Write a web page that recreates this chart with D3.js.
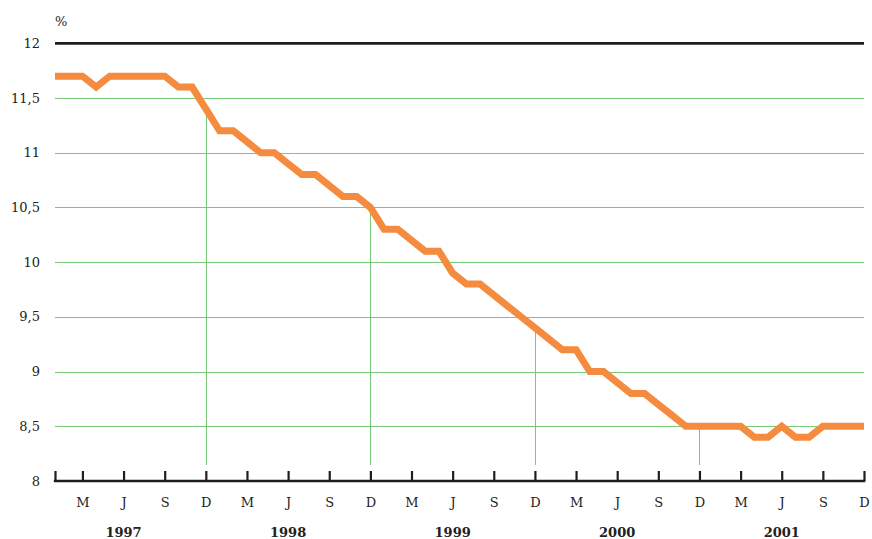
<!DOCTYPE html>
<html>
<head>
<meta charset="utf-8">
<script src="https://cdn.jsdelivr.net/npm/d3@7"></script>
<style>
  html, body { margin: 0; padding: 0; background: #fff; }
  svg { display: block; }
  text { font-family: "DejaVu Serif", serif; fill: #222; }
</style>
</head>
<body>
<svg id="chart" width="872" height="539"></svg>
<script>
// Monthly rate, January 1997 – December 2001 (%)
const years = ["1997", "1998", "1999", "2000", "2001"];
const rate1997 = [11.7, 11.7, 11.7, 11.6, 11.7, 11.7, 11.7, 11.7, 11.7, 11.6, 11.6, 11.4];
const rate1998 = [11.2, 11.2, 11.1, 11.0, 11.0, 10.9, 10.8, 10.8, 10.7, 10.6, 10.6, 10.5];
const rate1999 = [10.3, 10.3, 10.2, 10.1, 10.1, 9.9, 9.8, 9.8, 9.7, 9.6, 9.5, 9.4];
const rate2000 = [9.3, 9.2, 9.2, 9.0, 9.0, 8.9, 8.8, 8.8, 8.7, 8.6, 8.5, 8.5];
const rate2001 = [8.5, 8.5, 8.5, 8.4, 8.4, 8.5, 8.4, 8.4, 8.5, 8.5, 8.5, 8.5];
const yTicks = [8, 8.5, 9, 9.5, 10, 10.5, 11, 11.5, 12];
const quarterLetters = { 2: "M", 5: "J", 8: "S", 11: "D" };

const values = [].concat(rate1997, rate1998, rate1999, rate2000, rate2001);
const series = values.map((v, i) => ({ i, v }));

const svg = d3.select("#chart");
const plotLeft = 55, plotRight = 864, plotTop = 43.3, plotBottom = 481;

const x = d3.scaleLinear().domain([0, values.length - 1]).range([plotLeft, plotRight]);
const y = d3.scaleLinear().domain([8, 12]).range([plotBottom, plotTop]);

const green = "#78c878";
const fmt = d => String(d).replace(".", ",");

// horizontal gridlines
svg.append("g")
  .selectAll("line")
  .data(yTicks.filter(d => d > 8 && d < 12))
  .join("line")
  .attr("x1", plotLeft).attr("x2", plotRight)
  .attr("y1", d => Math.round(y(d)) + 0.5)
  .attr("y2", d => Math.round(y(d)) + 0.5)
  .attr("stroke", green).attr("stroke-width", 1);

// top rule at 12
svg.append("line")
  .attr("x1", plotLeft).attr("x2", plotRight)
  .attr("y1", y(12)).attr("y2", y(12))
  .attr("stroke", "#1e1e1e").attr("stroke-width", 2.7);

// drop lines at each December (except the last)
const decembers = series.filter(d => d.i % 12 === 11 && d.i < values.length - 1);
svg.append("g")
  .selectAll("line")
  .data(decembers)
  .join("line")
  .attr("x1", d => Math.round(x(d.i)) + 0.5)
  .attr("x2", d => Math.round(x(d.i)) + 0.5)
  .attr("y1", d => y(d.v))
  .attr("y2", 465)
  .attr("stroke", green).attr("stroke-width", 1);

// y labels
svg.append("g")
  .selectAll("text")
  .data(yTicks)
  .join("text")
  .attr("x", 40)
  .attr("y", d => y(d) + 4.5)
  .attr("text-anchor", "end")
  .attr("font-size", 13)
  .text(fmt);

svg.append("text")
  .attr("x", 55).attr("y", 26)
  .attr("font-size", 13)
  .text("%");

// x axis with upward ticks
const tickIdx = [0].concat(d3.range(2, values.length, 3));
const xAxis = d3.axisBottom(x)
  .tickValues(tickIdx)
  .tickSize(-10)
  .tickSizeOuter(0)
  .tickFormat(i => quarterLetters[i % 12] || "");

const gx = svg.append("g")
  .attr("transform", `translate(0,${plotBottom})`)
  .call(xAxis);
gx.select(".domain")
  .attr("stroke", "#1e1e1e").attr("stroke-width", 2.5)
  .attr("d", `M${plotLeft - 1.2},0H${plotRight + 1.2}`);
gx.selectAll(".tick line")
  .attr("stroke", "#1e1e1e").attr("stroke-width", 2.2);
gx.selectAll(".tick text")
  .attr("y", 25.5).attr("dy", null)
  .attr("font-family", "DejaVu Serif, serif")
  .attr("font-size", 13)
  .attr("fill", "#222");

// year labels centred on June
svg.append("g")
  .selectAll("text")
  .data(years)
  .join("text")
  .attr("x", (d, k) => x(k * 12 + 5))
  .attr("y", 536.5)
  .attr("text-anchor", "middle")
  .attr("font-size", 13)
  .attr("font-weight", "bold")
  .text(d => d);

// rate line
const line = d3.line().x(d => x(d.i)).y(d => y(d.v));
svg.append("path")
  .datum(series)
  .attr("d", line)
  .attr("fill", "none")
  .attr("stroke", "#f58b3e")
  .attr("stroke-width", 7)
  .attr("stroke-linejoin", "miter")
  .attr("stroke-linecap", "butt");
</script>
</body>
</html>
